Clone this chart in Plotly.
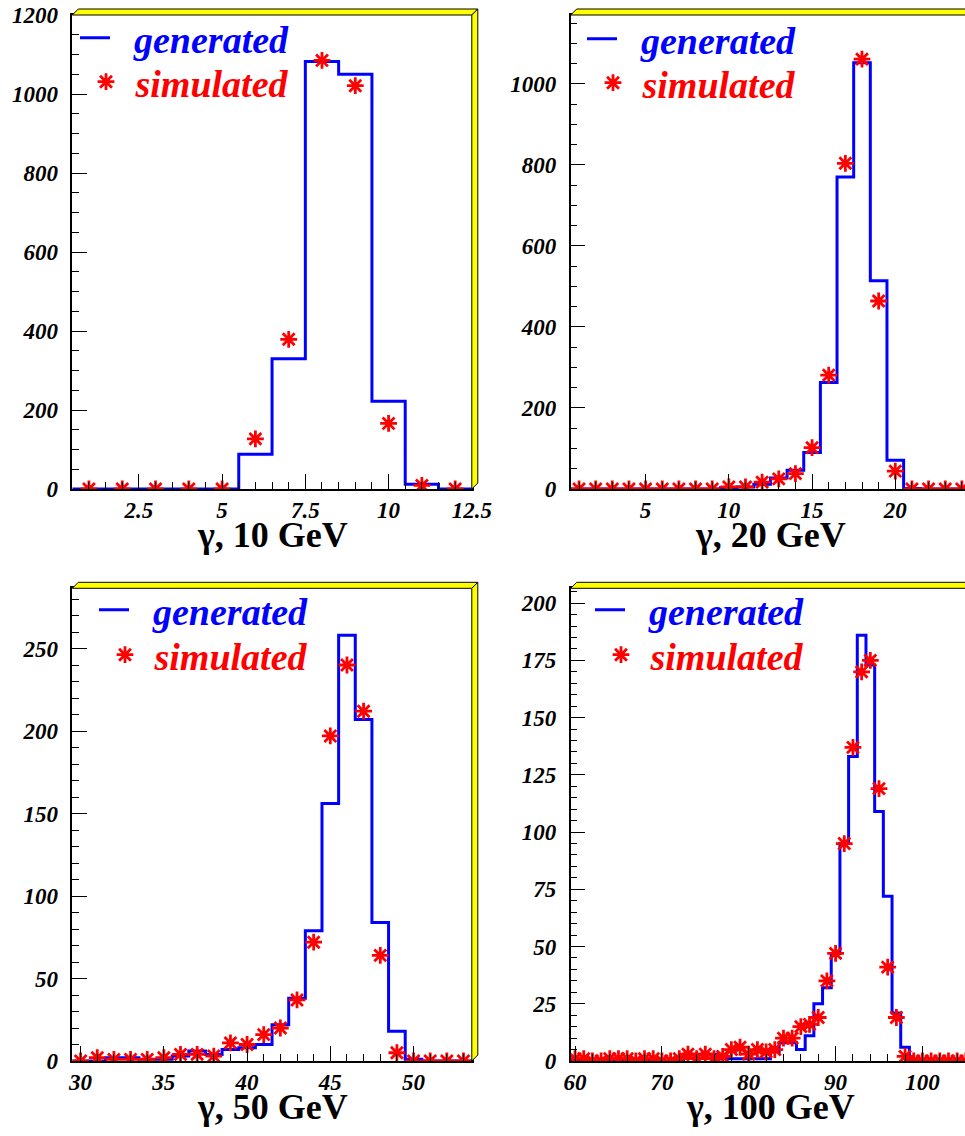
import plotly.graph_objects as go

# ---------------- data ----------------
centers1 = list(range(1, 13))
gen1 = [0, 0, 0, 0, 0, 88, 330, 1082, 1050, 222, 12, 0]
sim1 = [0, 0, 0, 0, 0, 127, 379, 1085, 1021, 166, 9, 0]

centers2 = list(range(1, 25))
gen2 = [0, 0, 0, 0, 0, 0, 0, 0, 0, 3, 5, 12, 27, 46, 90, 263, 770, 1052, 514, 71, 1, 0, 0, 0]
sim2 = [0, 0, 0, 0, 0, 0, 0, 0, 0, 5, 5, 17, 25, 38, 102, 281, 804, 1061, 464, 44, 0, 0, 0, 0]

centers3 = list(range(30, 54))
gen3 = [0, 0, 2, 2, 1, 1, 3, 6, 4, 7, 8, 10, 22, 38, 79, 156, 258, 207, 84, 18, 1, 0, 0, 0]
sim3 = [0, 2, 1, 1, 1, 2, 4, 4, 3, 11, 10, 16, 20, 37, 72, 197, 240, 212, 64, 5, 0, 0, 0, 0]

centers4 = list(range(60, 106))
gen4 = [0, 0, 0, 0, 0, 0, 0, 0, 0, 0, 0, 0, 0,
        3, 3, 3, 3,
        1, 1, 1, 1, 1, 1,
        4, 8, 8, 5, 11, 25, 32, 47, 95, 133, 186, 173, 109, 72, 21, 6,
        0, 0, 0, 0, 0, 0, 0]
sim4 = [1, 1, 0, 0, 1, 1, 1, 0, 1, 1, 0, 0, 1,
        3, 1, 3, 1, 2, 5, 6, 3, 5, 4,
        5, 10, 10, 15, 16, 19, 35, 47, 95, 137, 170, 175, 119, 41, 19, 2,
        0, 0, 0, 0, 0, 0, 0]

titles = ["γ, 10 GeV", "γ, 20 GeV", "γ, 50 GeV", "γ, 100 GeV"]
series_names = ["generated", "simulated"]

# ---------------- layout helpers (pixels) ----------------
W, H = 965, 1136
PW = 399.5
BEV = 6
FONT = "Liberation Serif"


def px(x):
    return x / W


def py(y):
    return 1 - y / H


panels = [
    dict(L=72.3, T=15, B=489, xr=[0.5, 12.5], xd=2.5, xm=0.5, yr=[0, 1200], yd=200, ym=50,
         c=centers1, g=gen1, s=sim1, cut=False, leg=dict(line=83, star=107, yg=38, ys=82)),
    dict(L=570.7, T=15, B=489, xr=[0.5, 0.5 + (W - 570.7) / (PW / 24)], xd=5, xm=1, yr=[0, 1170], yd=200, ym=50,
         c=centers2, g=gen2, s=sim2, cut=True, leg=dict(line=590, star=614, yg=39, ys=83)),
    dict(L=72.3, T=588.3, B=1061, xr=[29.5, 53.5], xd=5, xm=1, yr=[0, 286.5], yd=50, ym=10,
         c=centers3, g=gen3, s=sim3, cut=False, leg=dict(line=102, star=126, yg=610, ys=655)),
    dict(L=570.7, T=588.3, B=1061, xr=[59.5, 59.5 + (W - 570.7) / (PW / 46)], xd=10, xm=2, yr=[0, 206.5], yd=25, ym=5,
         c=centers4, g=gen4, s=sim4, cut=True, leg=dict(line=598, star=622, yg=610, ys=655)),
]

fig = go.Figure()
shapes = []
annotations = []
layout = {}

for i, p in enumerate(panels):
    n = i + 1
    xa = "x" if n == 1 else f"x{n}"
    ya = "y" if n == 1 else f"y{n}"
    R = p["L"] + PW
    xdom_r = min(R, W)

    # histogram step outline built from bin centers (width 1)
    edges_x = [c - 0.5 for c in p["c"]] + [p["c"][-1] + 0.5]
    edges_y = list(p["g"]) + [p["g"][-1]]
    lg_line = f"legend{2 * i + 1}" if i > 0 else "legend"
    lg_star = f"legend{2 * i + 2}"
    fig.add_trace(go.Scatter(
        x=edges_x, y=edges_y, mode="lines", line=dict(color="#0000ff", width=3, shape="hv"),
        xaxis=xa, yaxis=ya, name="&nbsp;&nbsp;" + series_names[0], legend=lg_line, showlegend=True,
    ))
    fig.add_trace(go.Scatter(
        x=p["c"], y=p["s"], mode="markers",
        marker=dict(symbol="asterisk-open", size=14, color="#ff0000",
                    line=dict(color="#ff0000", width=2.8)),
        xaxis=xa, yaxis=ya, name="&nbsp;" + series_names[1], legend=lg_star, showlegend=True,
    ))

    tickfont = dict(family=FONT, size=23, color="black", weight="bold", style="italic")
    xkey = "xaxis" if n == 1 else f"xaxis{n}"
    ykey = "yaxis" if n == 1 else f"yaxis{n}"
    layout[xkey] = dict(
        domain=[px(p["L"]), px(xdom_r)], anchor=ya, range=p["xr"],
        tick0=0, dtick=p["xd"], ticks="inside", ticklen=15, tickcolor="black", tickwidth=1,
        minor=dict(dtick=p["xm"], ticks="inside", ticklen=7, tickcolor="black", tickwidth=1),
        showline=True, linecolor="black", linewidth=1.5, mirror=True,
        showgrid=False, zeroline=False, tickfont=tickfont, ticklabelstandoff=0,
        automargin=False,
    )
    layout[ykey] = dict(
        domain=[py(p["B"]), py(p["T"])], anchor=xa, range=p["yr"],
        tick0=0, dtick=p["yd"], ticks="inside", ticklen=15, tickcolor="black", tickwidth=1,
        minor=dict(dtick=p["ym"], ticks="inside", ticklen=7, tickcolor="black", tickwidth=1),
        showline=True, linecolor="black", linewidth=1.5, mirror=(not p["cut"]),
        showgrid=False, zeroline=False, tickfont=tickfont, ticklabelstandoff=8,
        automargin=False,
    )

    # 3D yellow frame bevel
    L, T, B = p["L"], p["T"], p["B"]
    shapes.append(dict(
        type="path", xref="paper", yref="paper",
        path=f"M {px(L)},{py(T)} L {px(L + BEV)},{py(T - BEV)} L {px(R + BEV)},{py(T - BEV)} L {px(R)},{py(T)} Z",
        fillcolor="#ffff00", line=dict(color="black", width=1), layer="above",
    ))
    shapes.append(dict(
        type="path", xref="paper", yref="paper",
        path=f"M {px(R)},{py(T)} L {px(R + BEV)},{py(T - BEV)} L {px(R + BEV)},{py(B - BEV)} L {px(R)},{py(B)} Z",
        fillcolor="#ffff00", line=dict(color="black", width=1), layer="above",
    ))

    # panel title
    annotations.append(dict(
        text=titles[i], xref="paper", yref="paper", x=px(L + PW / 2), y=py(B + 46),
        xanchor="center", yanchor="middle", showarrow=False,
        font=dict(family=FONT, size=36, color="black", weight="bold"),
    ))

    # legends
    lgd = p["leg"]
    legfont = dict(family=FONT, size=38, weight="bold", style="italic")
    layout[lg_line] = dict(
        x=px(lgd["line"] - 8), y=py(lgd["yg"]), xanchor="left", yanchor="middle",
        bgcolor="rgba(0,0,0,0)", borderwidth=0, font=dict(legfont, color="#0000ff"),
        itemclick=False, itemdoubleclick=False,
    )
    layout[lg_star] = dict(
        x=px(lgd["star"] - 21), y=py(lgd["ys"]), xanchor="left", yanchor="middle",
        bgcolor="rgba(0,0,0,0)", borderwidth=0, font=dict(legfont, color="#ff0000"),
        itemclick=False, itemdoubleclick=False,
    )

fig.update_layout(
    width=W, height=H, margin=dict(l=0, r=0, t=0, b=0, autoexpand=False),
    paper_bgcolor="white", plot_bgcolor="white",
    shapes=shapes, annotations=annotations, **layout,
)

fig.write_html("out.html", config={"displayModeBar": False},
               post_script="document.body.style.margin='0px';")
